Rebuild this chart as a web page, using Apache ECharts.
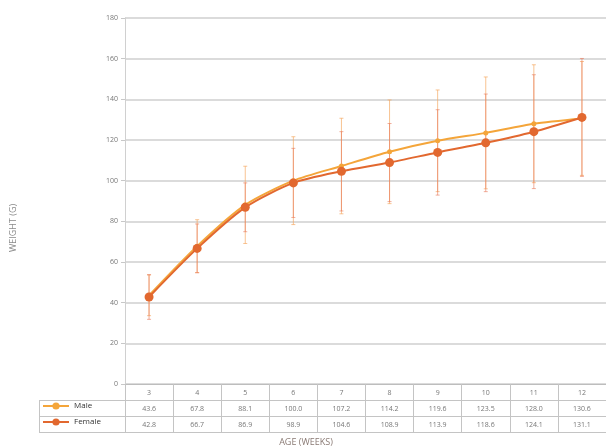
<!DOCTYPE html>
<html>
<head>
<meta charset="utf-8">
<script src="https://cdn.jsdelivr.net/npm/echarts@6/dist/echarts.min.js"></script>
<style>html,body{margin:0;padding:0;background:#fff}#c{width:606px;height:447px}</style>
</head>
<body>
<div id="c"></div>
<script>
var weeks = ['3','4','5','6','7','8','9','10','11','12'];
var male = [43.6, 67.8, 88.1, 100.0, 107.2, 114.2, 119.6, 123.5, 128.0, 130.6];
var female = [42.8, 66.7, 86.9, 98.9, 104.6, 108.9, 113.9, 118.6, 124.1, 131.1];
var maleErr = [10, 13, 19, 21.6, 23.5, 25.5, 25, 27.5, 29, 28];
var femaleErr = [11, 12, 12, 17, 19.5, 19.2, 21, 24, 28, 29];
var yTicks = [0, 20, 40, 60, 80, 100, 120, 140, 160, 180];

var FONT = '"Open Sans", "Liberation Sans", sans-serif';
var MALE_C = '#F4A53A';
var FEMALE_C = '#E2682F';

function errData(vals, errs) {
  return vals.map(function (v, i) { return [i, v - errs[i], v + errs[i]]; });
}
function errRender(color) {
  return function (params, api) {
    var lo = api.coord([api.value(0), api.value(1)]);
    var hi = api.coord([api.value(0), api.value(2)]);
    var w = 2;
    var st = { stroke: color, lineWidth: 1 };
    return {
      type: 'group',
      children: [
        { type: 'line', shape: { x1: lo[0], y1: lo[1], x2: hi[0], y2: hi[1] }, style: st },
        { type: 'line', shape: { x1: lo[0] - w, y1: lo[1], x2: lo[0] + w, y2: lo[1] }, style: st },
        { type: 'line', shape: { x1: hi[0] - w, y1: hi[1], x2: hi[0] + w, y2: hi[1] }, style: st }
      ]
    };
  };
}

var tableLine = { show: true, lineStyle: { color: '#c4c4c4', width: 1 } };
var cellLabel = { fontSize: 7, color: '#777', fontFamily: FONT, margin: 5 };

var chart = echarts.init(document.getElementById('c'));
chart.setOption({
  animation: false,
  backgroundColor: '#fff',
  grid: { left: 125, top: 18, width: 486, bottom: 63, containLabel: false },
  legend: {
    orient: 'vertical', left: 42, top: 402, itemGap: 8, padding: 0,
    itemWidth: 26, itemHeight: 9,
    textStyle: { fontSize: 8, color: '#333', fontFamily: FONT },
    data: ['Male', 'Female']
  },
  xAxis: [
    { type: 'category', data: weeks, position: 'bottom', boundaryGap: true,
      axisLine: { show: true, lineStyle: { color: '#bdbdbd' } },
      axisTick: { show: true, length: 48, lineStyle: { color: '#c4c4c4' } },
      axisLabel: { fontSize: 7, color: '#777', fontFamily: FONT, margin: 5 },
      splitLine: { show: false } },
    { type: 'category', data: male.map(function (v) { return v.toFixed(1); }), position: 'bottom', offset: 16,
      axisLine: tableLine, axisTick: { show: false }, axisLabel: cellLabel },
    { type: 'category', data: female.map(function (v) { return v.toFixed(1); }), position: 'bottom', offset: 32,
      axisLine: tableLine, axisTick: { show: false }, axisLabel: cellLabel },
    { type: 'category', data: weeks, position: 'bottom', offset: 48,
      axisLine: tableLine, axisTick: { show: false }, axisLabel: { show: false } }
  ],
  yAxis: {
    type: 'value', min: 0, max: 180, interval: 20,
    axisLine: { show: true, lineStyle: { color: '#d0d0d0' } },
    axisTick: { show: true, length: 4, lineStyle: { color: '#c8c8c8' } },
    axisLabel: { fontSize: 7, color: '#777', fontFamily: FONT, margin: 7,
      formatter: function (v) { return yTicks.indexOf(v) >= 0 ? String(v) : ''; } },
    splitLine: { lineStyle: { color: '#cfcfcf', width: 1.5 } }
  },
  graphic: [
    { type: 'line', shape: { x1: 39, y1: 400.5, x2: 125, y2: 400.5 }, style: { stroke: '#c4c4c4' } },
    { type: 'line', shape: { x1: 39, y1: 416.5, x2: 125, y2: 416.5 }, style: { stroke: '#c4c4c4' } },
    { type: 'line', shape: { x1: 39, y1: 432.5, x2: 125, y2: 432.5 }, style: { stroke: '#c4c4c4' } },
    { type: 'line', shape: { x1: 39.5, y1: 400, x2: 39.5, y2: 433 }, style: { stroke: '#c4c4c4' } },
    { type: 'text', x: 306, y: 442, style: { text: 'AGE (WEEKS)', fontSize: 9, fill: '#8a7a74', fontFamily: FONT, align: 'center', verticalAlign: 'middle' } },
    { type: 'text', x: 13, y: 228, rotation: Math.PI / 2, style: { text: 'WEIGHT (G)', fontSize: 9, fill: '#8a8a8a', fontFamily: FONT, align: 'center', verticalAlign: 'middle' } }
  ],
  series: [
    { name: 'MaleErr', type: 'custom', renderItem: errRender('rgba(245,170,100,0.7)'),
      data: errData(male, maleErr), encode: { x: 0, y: [1, 2] }, z: 1, silent: true },
    { name: 'FemaleErr', type: 'custom', renderItem: errRender('rgba(232,120,90,0.6)'),
      data: errData(female, femaleErr), encode: { x: 0, y: [1, 2] }, z: 1, silent: true },
    { name: 'Male', type: 'line', data: male, smooth: 0.25, z: 3,
      symbol: 'circle', symbolSize: 5,
      lineStyle: { color: MALE_C, width: 2 }, itemStyle: { color: MALE_C } },
    { name: 'Female', type: 'line', data: female, smooth: 0.25, z: 4,
      symbol: 'circle', symbolSize: 9,
      lineStyle: { color: FEMALE_C, width: 2 }, itemStyle: { color: FEMALE_C } }
  ]
});
</script>
</body>
</html>
